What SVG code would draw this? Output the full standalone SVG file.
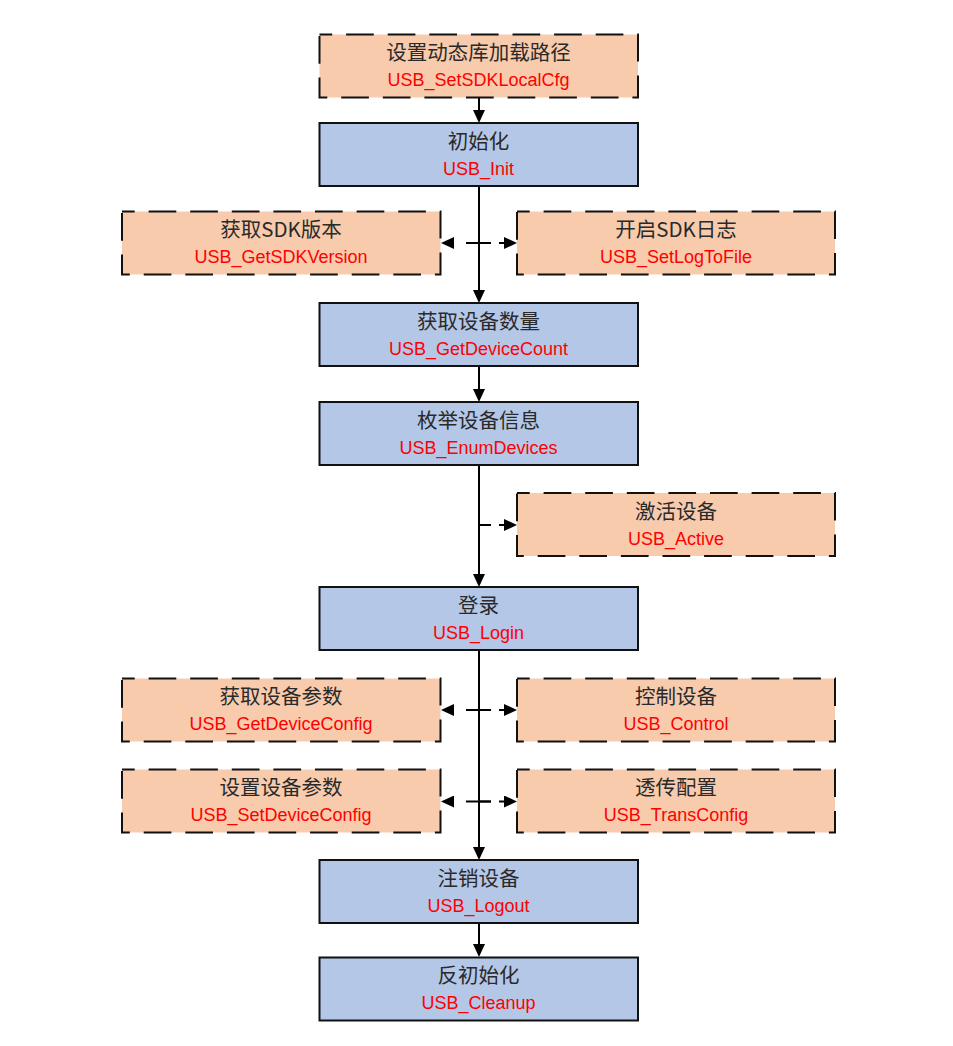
<svg xmlns="http://www.w3.org/2000/svg" width="953" height="1046" viewBox="0 0 953 1046">
<style>
.main{fill:#B4C7E7;stroke:#111;stroke-width:2}
.opt{fill:#F8CBAD;stroke:#111;stroke-width:2;stroke-dasharray:27.7 13.9;stroke-dashoffset:15}
.cn{font-family:"Noto Sans CJK SC","Noto Sans",sans-serif;font-size:20.5px;fill:#2a2a2a;text-anchor:middle}
.fn{font-family:"Liberation Sans",Arial,sans-serif;font-size:18px;fill:#FF0000;text-anchor:middle}
.ln{stroke:#000;stroke-width:2;fill:none}
.dl{stroke:#000;stroke-width:2;fill:none}
</style>
<defs>
<marker id="ah" viewBox="0 0 13 12" refX="2" refY="6" markerWidth="13" markerHeight="12" markerUnits="userSpaceOnUse" orient="auto">
<path d="M0,0 L13,6 L0,12 z" fill="#000"/>
</marker>
</defs>
<rect width="953" height="1046" fill="#fff"/>
<g id="connectors">
<line class="ln" x1="479" y1="98" x2="479" y2="112" marker-end="url(#ah)"/>
<line class="ln" x1="479" y1="186" x2="479" y2="292" marker-end="url(#ah)"/>
<line class="ln" x1="479" y1="366" x2="479" y2="391" marker-end="url(#ah)"/>
<line class="ln" x1="479" y1="465" x2="479" y2="576" marker-end="url(#ah)"/>
<line class="ln" x1="479" y1="650" x2="479" y2="849" marker-end="url(#ah)"/>
<line class="ln" x1="479" y1="923" x2="479" y2="946" marker-end="url(#ah)"/>
<line class="dl" x1="491" y1="243" x2="452" y2="243" stroke-dasharray="25 15" marker-end="url(#ah)"/>
<line class="dl" x1="479" y1="243" x2="506" y2="243" stroke-dasharray="12 8 8 20" marker-end="url(#ah)"/>
<line class="dl" x1="479" y1="525" x2="506" y2="525" stroke-dasharray="12 8 8 20" marker-end="url(#ah)"/>
<line class="dl" x1="491" y1="710" x2="452" y2="710" stroke-dasharray="25 15" marker-end="url(#ah)"/>
<line class="dl" x1="479" y1="710" x2="506" y2="710" stroke-dasharray="12 8 8 20" marker-end="url(#ah)"/>
<line class="dl" x1="491" y1="801.5" x2="452" y2="801.5" stroke-dasharray="25 15" marker-end="url(#ah)"/>
<line class="dl" x1="479" y1="801.5" x2="506" y2="801.5" stroke-dasharray="12 8 8 20" marker-end="url(#ah)"/>
</g>
<g id="setSDKLocalCfg">
<rect class="opt" x="319.5" y="34.5" width="318.5" height="63"/>
<text class="cn" x="478.5" y="60">设置动态库加载路径</text>
<text class="fn" x="478.5" y="86">USB_SetSDKLocalCfg</text>
</g>
<g id="init">
<rect class="main" x="319.5" y="123" width="318.5" height="63"/>
<text class="cn" x="478.5" y="148.5">初始化</text>
<text class="fn" x="478.5" y="174.5">USB_Init</text>
</g>
<g id="getSDKVersion">
<rect class="opt" x="122" y="211.5" width="318.5" height="63"/>
<text class="cn" x="281" y="237">获取SDK版本</text>
<text class="fn" x="281" y="263">USB_GetSDKVersion</text>
</g>
<g id="setLogToFile">
<rect class="opt" x="517" y="211.5" width="318" height="63"/>
<text class="cn" x="676" y="237">开启SDK日志</text>
<text class="fn" x="676" y="263">USB_SetLogToFile</text>
</g>
<g id="getDeviceCount">
<rect class="main" x="319.5" y="303" width="318.5" height="63"/>
<text class="cn" x="478.5" y="328.5">获取设备数量</text>
<text class="fn" x="478.5" y="354.5">USB_GetDeviceCount</text>
</g>
<g id="enumDevices">
<rect class="main" x="319.5" y="402" width="318.5" height="63"/>
<text class="cn" x="478.5" y="427.5">枚举设备信息</text>
<text class="fn" x="478.5" y="453.5">USB_EnumDevices</text>
</g>
<g id="active">
<rect class="opt" x="517" y="493" width="318" height="63"/>
<text class="cn" x="676" y="518.5">激活设备</text>
<text class="fn" x="676" y="544.5">USB_Active</text>
</g>
<g id="login">
<rect class="main" x="319.5" y="587" width="318.5" height="63"/>
<text class="cn" x="478.5" y="612.5">登录</text>
<text class="fn" x="478.5" y="638.5">USB_Login</text>
</g>
<g id="getDeviceConfig">
<rect class="opt" x="122" y="678.5" width="318.5" height="63"/>
<text class="cn" x="281" y="704">获取设备参数</text>
<text class="fn" x="281" y="730">USB_GetDeviceConfig</text>
</g>
<g id="control">
<rect class="opt" x="517" y="678.5" width="318" height="63"/>
<text class="cn" x="676" y="704">控制设备</text>
<text class="fn" x="676" y="730">USB_Control</text>
</g>
<g id="setDeviceConfig">
<rect class="opt" x="122" y="769.5" width="318.5" height="63"/>
<text class="cn" x="281" y="795">设置设备参数</text>
<text class="fn" x="281" y="821">USB_SetDeviceConfig</text>
</g>
<g id="transConfig">
<rect class="opt" x="517" y="769.5" width="318" height="63"/>
<text class="cn" x="676" y="795">透传配置</text>
<text class="fn" x="676" y="821">USB_TransConfig</text>
</g>
<g id="logout">
<rect class="main" x="319.5" y="860" width="318.5" height="63"/>
<text class="cn" x="478.5" y="885.5">注销设备</text>
<text class="fn" x="478.5" y="911.5">USB_Logout</text>
</g>
<g id="cleanup">
<rect class="main" x="319.5" y="957.5" width="318.5" height="63"/>
<text class="cn" x="478.5" y="983">反初始化</text>
<text class="fn" x="478.5" y="1009">USB_Cleanup</text>
</g>
</svg>
